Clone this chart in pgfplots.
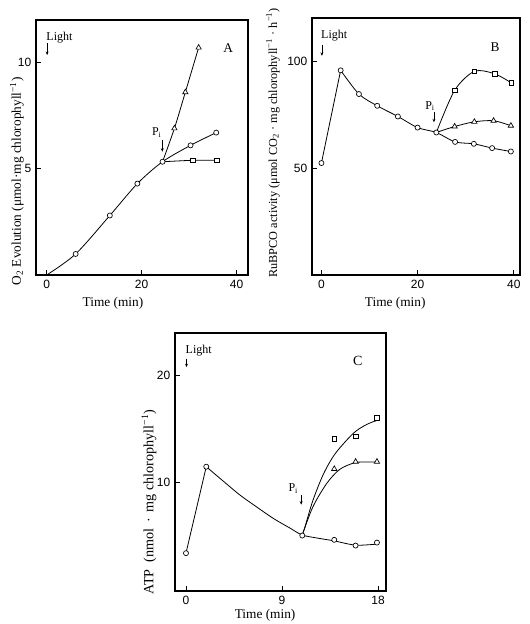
\documentclass[border=0pt]{standalone}
\usepackage{fontspec}
\setmainfont{Liberation Serif}
\newfontfamily\tickfont{Liberation Sans}
\usepackage{pgfplots}
\pgfplotsset{compat=1.18}
\usetikzlibrary{arrows.meta}
\tikzset{
 arr/.style={-{Stealth[length=2.6pt,width=2.2pt]}, line width=0.5pt},
 smalltxt/.style={font=\fontsize{9}{10}\selectfont, inner sep=0pt},
}
\pgfplotsset{
 panel/.style={
  scale only axis, anchor=south west,
  axis line style={line width=0.8pt},
  tick style={line width=0.6pt, black},
  major tick length=4pt,
  xtick pos=left, ytick pos=left,
  tick align=inside,
  /pgf/number format/assume math mode=true,
  tick label style={font=\tickfont\fontsize{9}{10}\selectfont},
  label style={font=\fontsize{10}{11}\selectfont},
  xlabel style={anchor=center},
  ylabel style={anchor=center, inner sep=0pt},
  every axis plot/.append style={line width=0.6pt, black},
 },
 lin/.style={no marks, smooth, tension=0.5},
 circ/.style={only marks, mark=*, mark size=1.9pt, mark options={fill=white, draw=black, line width=0.5pt}},
 sq/.style={only marks, mark=square*, mark size=1.8pt, mark options={fill=white, draw=black, line width=0.5pt}},
 tri/.style={only marks, mark=triangle*, mark size=2.3pt, mark options={fill=white, draw=black, line width=0.5pt}},
}
\begin{document}
\begin{tikzpicture}
\path[use as bounding box] (0,0) rectangle (396.75pt,468pt);
% ---------------- Panel A
\begin{axis}[panel, at={(27pt,261.75pt)}, width=159pt, height=191.25pt,
  xmin=-2.25, xmax=42.4, ymin=0, ymax=12,
  xtick={0,20,40}, ytick={5,10},
  xticklabels={0,20,40}, yticklabels={5,10},
  xlabel={Time (min)}, xlabel style={at={(axis description cs:0.363,-0.11)}},
  ylabel={O\textsubscript{2} Evolution (μmol·mg chlorophyll\textsuperscript{−1})},
  ylabel style={at={(axis description cs:-0.09,0.367)}}]
\addplot[lin] coordinates {(0,0) (6.1,0.99) (13.3,2.8) (19.1,4.3) (24.4,5.33) (30.3,6.1) (35.7,6.7)};
\addplot[lin] coordinates {(24.4,5.33) (26.9,6.9) (29.2,8.6) (32,10.7)};
\addplot[no marks] coordinates {(24.4,5.33) (30.7,5.4) (35.9,5.4)};
\addplot[circ] coordinates {(6.1,0.99) (13.3,2.8) (19.1,4.3) (24.4,5.33) (30.3,6.1) (35.7,6.7)};
\addplot[tri] coordinates {(26.9,6.9) (29.2,8.6) (32,10.7)};
\addplot[sq] coordinates {(30.7,5.4) (35.9,5.4)};
\node[smalltxt, anchor=west] at (axis cs:-0.1,11.18) {Light};
\draw[arr] (axis cs:0.1,10.9) -- (axis cs:0.1,10.35);
\node[smalltxt] at (axis cs:23.2,6.7) {P\textsubscript{i}};
\draw[arr] (axis cs:24.35,6.36) -- (axis cs:24.35,5.8);
\node[smalltxt, font=\fontsize{10}{11}\selectfont] at (axis cs:38.2,10.7) {A};
\end{axis}
% ---------------- Panel B
\begin{axis}[panel, at={(234pt,261.75pt)}, width=156pt, height=192.75pt,
  xmin=-1.96, xmax=41.3, ymin=0, ymax=120.3,
  xtick={0,20,40}, ytick={50,100},
  xticklabels={0,20,40}, yticklabels={50,100},
  xlabel={Time (min)}, xlabel style={at={(axis description cs:0.4,-0.109)}},
  ylabel={RuBPCO activity (μmol CO\textsubscript{2} · mg chlorophyll\textsuperscript{−1} · h\textsuperscript{−1})},
  ylabel style={at={(axis description cs:-0.1875,0.514)}, font=\fontsize{9.2}{11}\selectfont}]
\addplot[no marks] coordinates {(0,52.4) (4,95.8)};
\addplot[lin] coordinates {(4,95.8) (7.8,84.7) (11.6,79.2) (15.9,74.2) (20,69) (23.9,66.7) (27.8,62.3) (31.7,61.4) (35.5,59.4) (39.4,57.8)};
\addplot[lin] coordinates {(23.9,66.7) (27.7,86.4) (31.8,95.3) (36,94.2) (39.5,89.9)};
\addplot[lin] coordinates {(23.9,66.7) (27.7,69.5) (31.8,71.7) (35.8,72.2) (39.4,69.9)};
\addplot[circ] coordinates {(0,52.4) (4,95.8) (7.8,84.7) (11.6,79.2) (15.9,74.2) (20,69) (23.9,66.7) (27.8,62.3) (31.7,61.4) (35.5,59.4) (39.4,57.8)};
\addplot[sq] coordinates {(27.7,86.4) (31.8,95.3) (36,94.2) (39.5,89.9)};
\addplot[tri] coordinates {(27.7,69.5) (31.8,71.7) (35.8,72.2) (39.4,69.9)};
\node[smalltxt, anchor=west] at (axis cs:-0.1,112.1) {Light};
\draw[arr] (axis cs:0.1,107.8) -- (axis cs:0.1,102.6);
\node[smalltxt] at (axis cs:22.6,79.2) {P\textsubscript{i}};
\draw[arr] (axis cs:23.4,76.5) -- (axis cs:23.4,71.5);
\node[smalltxt, font=\fontsize{10}{11}\selectfont] at (axis cs:36.1,106.6) {B};
\end{axis}
% ---------------- Panel C
\begin{axis}[panel, at={(131.25pt,24.75pt)}, width=158.25pt, height=193.5pt,
  xmin=-1.03, xmax=18.75, ymin=-0.2, ymax=24,
  xtick={0,9,18}, ytick={10,20},
  xticklabels={0,9,18}, yticklabels={10,20},
  xlabel={Time (min)}, xlabel style={at={(axis description cs:0.427,-0.093)}},
  ylabel={ATP\ \ (nmol \,·\, mg chlorophyll\textsuperscript{−1})},
  ylabel style={at={(axis description cs:-0.123,0.345)}, font=\fontsize{10.6}{12}\selectfont}]
\addplot[no marks] coordinates {(0,3.35) (1.9,11.46)};
\addplot[lin] coordinates {(1.9,11.46) (3.5,10.1) (5.06,8.8) (6.6,7.7) (8.2,6.6) (9.75,5.7) (10.9,5.05) (12.4,4.75) (13.9,4.5) (15.9,4.1) (17.9,4.2)};
\addplot[lin] coordinates {(10.9,5.05) (11.15,5.8) (11.9,8.3) (12.9,10.8) (14.0,12.7) (15.7,14.6) (16.9,15.4) (17.9,15.8)};
\addplot[lin] coordinates {(10.9,5.05) (11.9,7.7) (13.2,9.9) (14.4,11.2) (15.7,11.8) (16.5,11.9) (17.9,11.9)};
\addplot[circ] coordinates {(0,3.35) (1.9,11.46) (10.9,5.0) (13.9,4.6) (15.9,4.06) (17.9,4.34)};
\addplot[sq] coordinates {(13.9,14.06) (15.9,14.3) (17.9,16.06)};
\addplot[tri] coordinates {(13.9,11.25) (15.9,11.93) (17.9,11.93)};
\node[smalltxt, anchor=west] at (axis cs:-0.05,22.3) {Light};
\draw[arr] (axis cs:0.05,21.6) -- (axis cs:0.05,20.8);
\node[smalltxt] at (axis cs:10.06,9.4) {P\textsubscript{i}};
\draw[arr] (axis cs:10.8,8.8) -- (axis cs:10.8,7.9);
\node[smalltxt, font=\fontsize{10.5}{11}\selectfont] at (axis cs:16.1,21.4) {C};
\end{axis}
\end{tikzpicture}
\end{document}
